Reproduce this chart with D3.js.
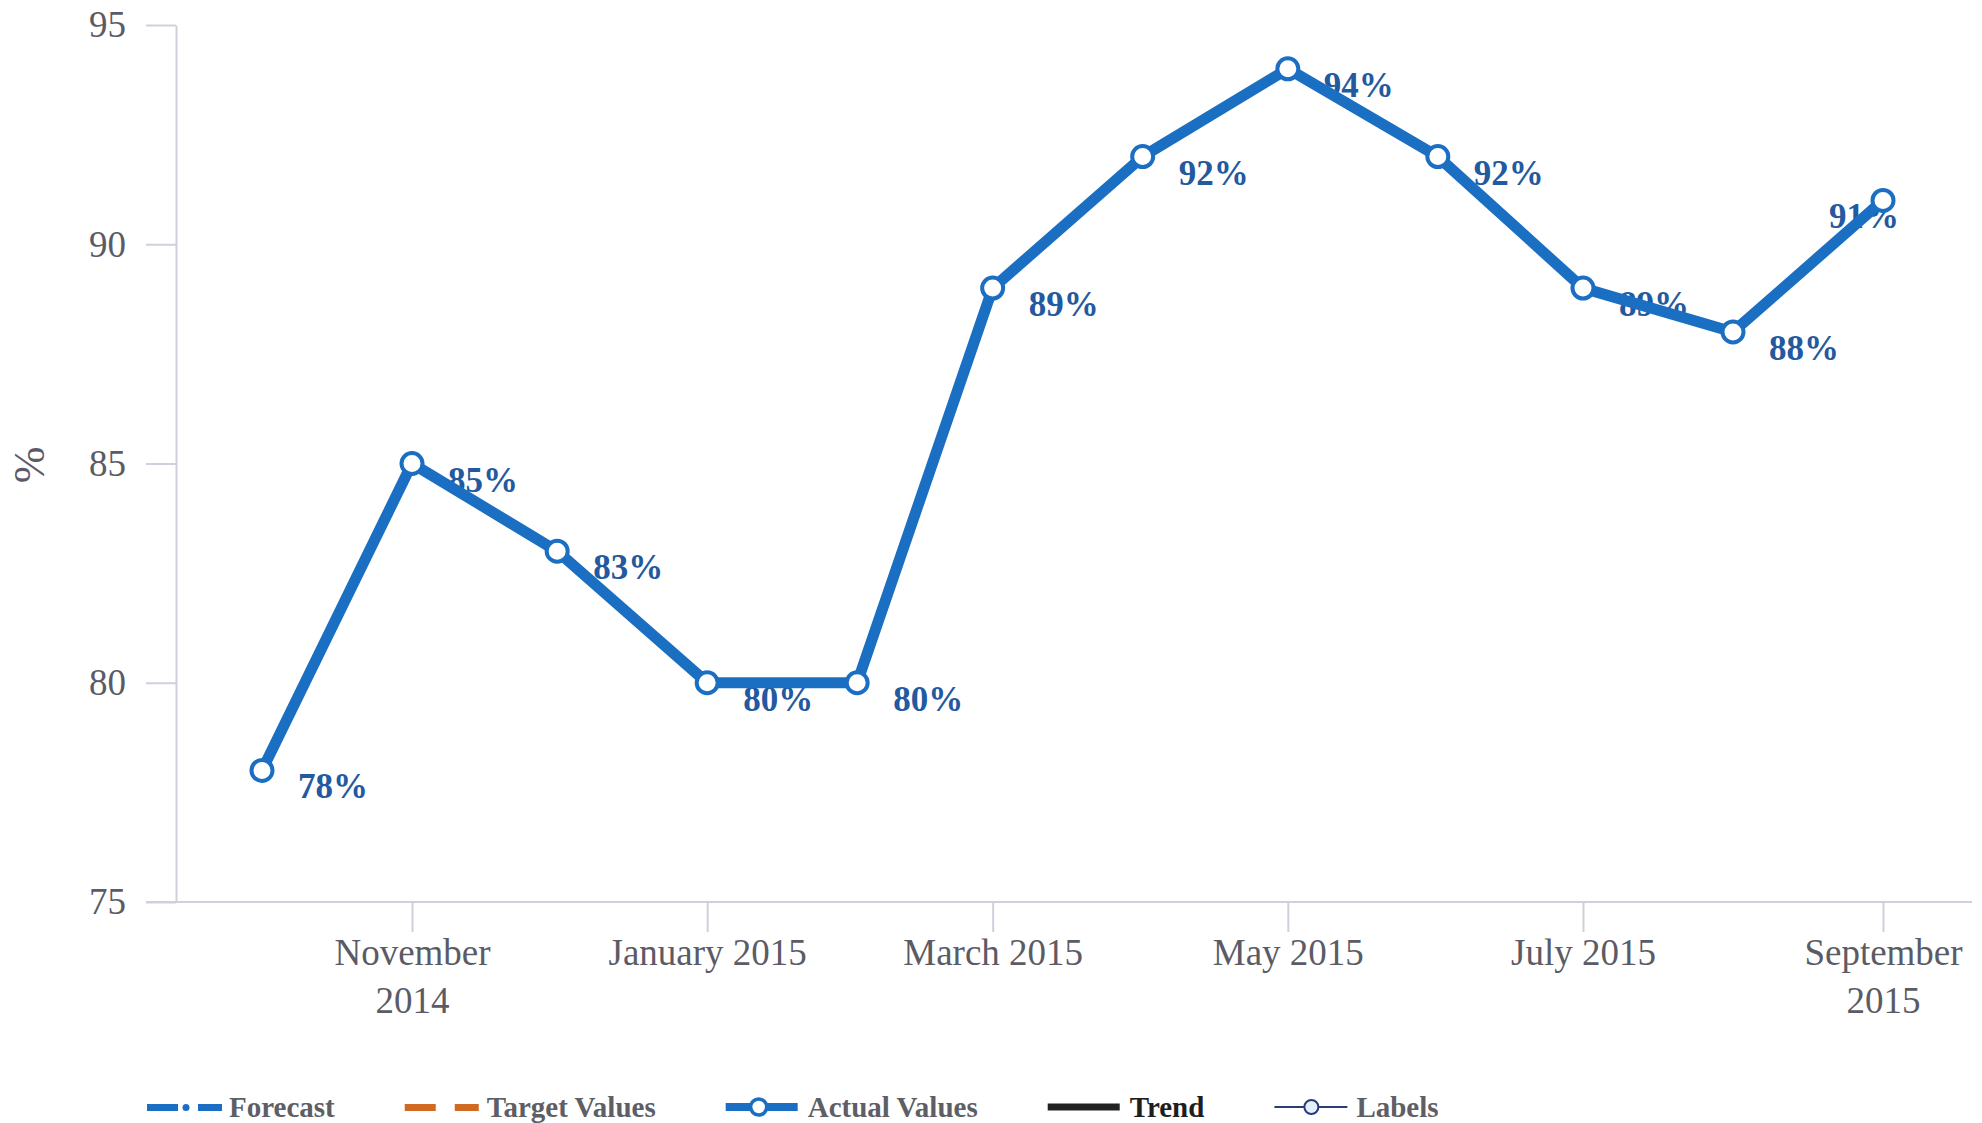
<!DOCTYPE html>
<html>
<head>
<meta charset="utf-8">
<script src="https://cdn.jsdelivr.net/npm/d3@7"></script>
<style>
  body { margin: 0; background: #fff; }
  svg { display: block; font-family: "Liberation Serif", "Times New Roman", serif; }
  .axis path, .axis line { stroke: #cfd0dc; stroke-width: 2; }
  .axis text { fill: #5b5b66; font-size: 37px; font-family: "Liberation Serif", "Times New Roman", serif; }
</style>
</head>
<body>
<svg id="chart"></svg>
<script>
const width = 1982;
const height = 1123;

// data
const months = ['2014-10', '2014-11', '2014-12', '2015-01', '2015-02', '2015-03',
    '2015-04', '2015-05', '2015-06', '2015-07', '2015-08', '2015-09'];
const actual = [78, 85, 83, 80, 80, 89, 92, 94, 92, 89, 88, 91];
const yTicks = [75, 80, 85, 90, 95];
const xTickMonths = ['2014-11', '2015-01', '2015-03', '2015-05', '2015-07', '2015-09'];
const xTickLabels = [['November', '2014'], ['January 2015'], ['March 2015'],
    ['May 2015'], ['July 2015'], ['September', '2015']];
const legendNames = ['Forecast', 'Target Values', 'Actual Values', 'Trend', 'Labels'];

const parse = d3.timeParse('%Y-%m');
const data = months.map((m, i) => ({ date: parse(m), value: actual[i] }));

const blue = '#1b6fc2';
const labelBlue = '#23599f';
const plotRight = 1972;

const svg = d3.select('#chart')
    .attr('width', width)
    .attr('height', height);

const x = d3.scaleTime()
    .domain(d3.extent(data, d => d.date))
    .range([262, 1883]);
const y = d3.scaleLinear()
    .domain([75, 95])
    .range([902, 25]);

// y axis
svg.append('g')
    .attr('class', 'axis')
    .attr('transform', 'translate(176, 0)')
    .call(d3.axisLeft(y).tickValues(yTicks).tickSize(30).tickSizeOuter(0).tickPadding(20));

// x axis
const xAxis = svg.append('g')
    .attr('class', 'axis')
    .attr('transform', `translate(0, ${y(75)})`)
    .call(d3.axisBottom(x).tickValues(xTickMonths.map(parse)).tickSize(30).tickFormat(''));
xAxis.select('.domain').remove();
xAxis.append('line')
    .attr('x1', 146).attr('x2', plotRight)
    .attr('stroke', '#cfd0dc').attr('stroke-width', 2);

xAxis.selectAll('.tick').each(function (d, i) {
    const t = d3.select(this).select('text')
        .attr('y', 0)
        .attr('dy', null);
    xTickLabels[i].forEach((line, j) => {
        t.append('tspan')
            .attr('x', 0)
            .attr('y', 63 + j * 48)
            .text(line);
    });
});

// y title
svg.append('text')
    .attr('transform', 'translate(44, 465) rotate(-90)')
    .attr('text-anchor', 'middle')
    .attr('fill', '#5b5b66')
    .style('font-size', '44px')
    .text('%');

// data labels (under the line)
svg.append('g').selectAll('text')
    .data(data)
    .enter()
    .append('text')
    .attr('x', d => x(d.date) + 36)
    .attr('y', d => y(d.value) + 28)
    .attr('fill', labelBlue)
    .style('font-size', '35px')
    .style('font-weight', 'bold')
    .text(d => d.value + '%')
    .each(function (d) {
        // keep the label inside the plot
        const w = this.getComputedTextLength();
        if (x(d.date) + 36 + w > plotRight - 10) {
            d3.select(this).attr('x', x(d.date) - 19 - w / 2);
        }
    });

svg.append('path')
    .datum(data)
    .attr('fill', 'none')
    .attr('stroke', blue)
    .attr('stroke-width', 11)
    .attr('stroke-linejoin', 'round')
    .attr('d', d3.line()
        .x(d => x(d.date))
        .y(d => y(d.value)));

svg.append('g').selectAll('circle')
    .data(data)
    .enter()
    .append('circle')
    .attr('cx', d => x(d.date))
    .attr('cy', d => y(d.value))
    .attr('r', 10.5)
    .attr('fill', '#fff')
    .attr('stroke', blue)
    .attr('stroke-width', 4);

// legend
const legend = svg.append('g').attr('transform', 'translate(0, 1107)');
let lx = 147;
legendNames.forEach((name, i) => {
    const g = legend.append('g').attr('transform', `translate(${lx}, 0)`);
    if (i === 0) {
        g.append('rect').attr('x', 0).attr('y', -3).attr('width', 31).attr('height', 7).attr('fill', blue);
        g.append('circle').attr('cx', 39).attr('cy', 0.5).attr('r', 3.5).attr('fill', blue);
        g.append('rect').attr('x', 51).attr('y', -3).attr('width', 24).attr('height', 7).attr('fill', blue);
    } else if (i === 1) {
        g.append('rect').attr('x', 0).attr('y', -3).attr('width', 31).attr('height', 7).attr('fill', '#d06a22');
        g.append('rect').attr('x', 50).attr('y', -3).attr('width', 24).attr('height', 7).attr('fill', '#d06a22');
    } else if (i === 2) {
        g.append('line').attr('x1', 0).attr('x2', 72).attr('stroke', blue).attr('stroke-width', 8);
        g.append('circle').attr('cx', 33).attr('r', 8).attr('fill', '#fff').attr('stroke', blue).attr('stroke-width', 3.5);
    } else if (i === 3) {
        g.append('line').attr('x1', 0).attr('x2', 72).attr('stroke', '#222').attr('stroke-width', 7);
    } else {
        g.append('line').attr('x1', 0).attr('x2', 73).attr('stroke', '#2d3a78').attr('stroke-width', 2);
        g.append('circle').attr('cx', 37).attr('r', 7).attr('fill', '#e3f1ff').attr('stroke', '#2d3a78').attr('stroke-width', 2);
    }
    const t = g.append('text')
        .attr('x', 82)
        .attr('y', 10)
        .attr('fill', i === 3 ? '#1e1e1e' : '#5e5e66')
        .style('font-size', '29px')
        .style('font-weight', 'bold')
        .text(name);
    lx += 82 + t.node().getComputedTextLength() + 70;
});
</script>
</body>
</html>
